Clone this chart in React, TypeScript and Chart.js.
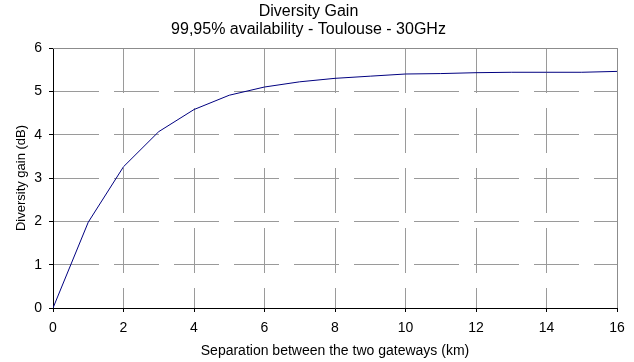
import React, { useEffect, useRef } from "react";
import { Chart, registerables } from "chart.js";

Chart.register(...registerables);

const separationKm = [0, 1, 2, 3, 4, 5, 6, 7, 8, 9, 10, 11, 12, 13, 14, 15, 16];
const diversityGainDb = [0, 1.98, 3.26, 4.07, 4.58, 4.91, 5.1, 5.22, 5.3, 5.35, 5.4, 5.41, 5.43, 5.44, 5.44, 5.44, 5.46];
const titleLines = ["Diversity Gain", "99,95% availability - Toulouse - 30GHz"];
const xAxisTitle = "Separation between the two gateways (km)";
const yAxisTitle = "Diversity gain (dB)";

const FONT = "'Liberation Sans', Arial, sans-serif";
const GRID = "#9a9a9a";

const frameBorder = {
  id: "frameBorder",
  beforeDatasetsDraw(chart: any) {
    const { ctx, chartArea } = chart;
    ctx.save();
    ctx.strokeStyle = "#8c8c8c";
    ctx.lineWidth = 1;
    ctx.setLineDash([]);
    ctx.beginPath();
    const t = Math.round(chartArea.top) + 0.5;
    const r = Math.round(chartArea.right) + 0.5;
    ctx.moveTo(chartArea.left, t);
    ctx.lineTo(r, t);
    ctx.lineTo(r, chartArea.bottom);
    ctx.stroke();
    ctx.restore();
  },
};

export default function App() {
  const ref = useRef<HTMLCanvasElement | null>(null);
  useEffect(() => {
    if (!ref.current) return;
    const chart = new Chart(ref.current, {
      type: "line",
      data: {
        datasets: [
          {
            data: separationKm.map((x, i) => ({ x, y: diversityGainDb[i] })),
            borderColor: "#000080",
            borderWidth: 1,
            pointRadius: 0,
            tension: 0,
            fill: false,
          },
        ],
      },
      options: {
        animation: false,
        responsive: true,
        maintainAspectRatio: false,
        layout: { padding: { left: 0, right: 17, top: 0, bottom: 0 } },
        plugins: {
          legend: { display: false },
          tooltip: { enabled: false },
          title: {
            display: true,
            text: titleLines,
            color: "#000",
            font: { family: FONT, size: 16, weight: "normal", lineHeight: 1.125 },
            padding: { top: 3, bottom: 9 },
          },
        },
        scales: {
          x: {
            type: "linear",
            min: 0,
            max: 16,
            afterFit(scale: any) {
              scale.height = 54;
            },
            ticks: {
              stepSize: 2,
              color: "#000",
              font: { family: FONT, size: 14 },
              padding: 8,
              maxRotation: 0,
            },
            grid: {
              color: GRID,
              lineWidth: 1,
              tickColor: "#000",
              tickLength: 4,
              tickBorderDash: [],
            },
            border: { display: true, color: "#000", width: 1, dash: [45, 15] },
            title: {
              display: true,
              text: xAxisTitle,
              color: "#000",
              font: { family: FONT, size: 14 },
              padding: { top: 0, bottom: 2 },
            },
          },
          y: {
            min: 0,
            max: 6,
            afterFit(scale: any) {
              scale.width = 53;
            },
            ticks: {
              stepSize: 1,
              color: "#000",
              font: { family: FONT, size: 14 },
              padding: 7,
            },
            grid: {
              color: GRID,
              lineWidth: 1,
              tickColor: "#000",
              tickLength: 4,
              tickBorderDash: [],
            },
            border: { display: true, color: "#000", width: 1, dash: [45, 15] },
            title: {
              display: true,
              text: yAxisTitle,
              color: "#000",
              font: { family: FONT, size: 13 },
              padding: { top: 14, bottom: 0 },
            },
          },
        },
      },
      plugins: [frameBorder],
    } as any);
    return () => chart.destroy();
  }, []);
  return (
    <div style={{ position: "fixed", left: 0, top: 0, width: 634, height: 362, background: "#fff" }}>
      <canvas ref={ref} />
    </div>
  );
}
